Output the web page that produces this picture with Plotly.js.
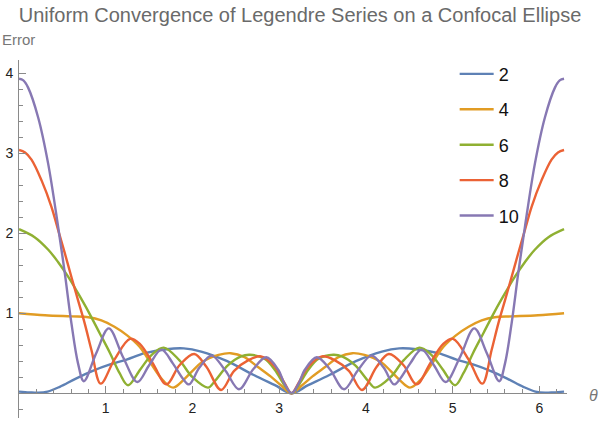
<!DOCTYPE html>
<html>
<head>
<meta charset="utf-8">
<script src="https://cdn.plot.ly/plotly-3.0.1.min.js"></script>
<style>
  body { margin: 0; background: #fff; }
  #plot { width: 600px; height: 421px; }
</style>
</head>
<body>
<div id="plot"></div>
<script>
// error curves, theta in radians
var theta2 = [0, 0.12, 0.22, 0.33, 0.47, 0.65, 0.85, 1.05, 1.24, 1.45, 1.7, 1.9, 2.1, 2.4, 2.7, 2.95, 3.1416,
    3.333, 3.583, 3.883, 4.183, 4.383, 4.583, 4.833, 5.043, 5.233, 5.433, 5.633, 5.813, 5.953, 6.063, 6.163, 6.283]
var err2 = [0.02, 0.01, 0.005, 0.02, 0.08, 0.18, 0.28, 0.36, 0.42, 0.50, 0.55, 0.56, 0.52, 0.40, 0.23, 0.10, 0,
    0.10, 0.23, 0.40, 0.52, 0.56, 0.55, 0.50, 0.42, 0.36, 0.28, 0.18, 0.08, 0.02, 0.005, 0.01, 0.02]

var theta4 = [0, 0.3, 0.6, 0.8, 0.95, 1.1, 1.25, 1.39, 1.545, 1.66, 1.776, 1.9, 2.0, 2.1, 2.2, 2.3, 2.44, 2.6, 2.75, 2.9, 3.02, 3.1416,
    3.263, 3.383, 3.533, 3.683, 3.843, 3.983, 4.083, 4.183, 4.283, 4.383, 4.507, 4.623, 4.738, 4.893, 5.033, 5.183, 5.333, 5.483, 5.683, 5.983, 6.283]
var err4 = [1.00, 0.975, 0.96, 0.95, 0.91, 0.83, 0.72, 0.58, 0.33, 0.16, 0.07, 0.17, 0.28, 0.38, 0.44, 0.48, 0.50, 0.45, 0.33, 0.21, 0.10, 0,
    0.10, 0.21, 0.33, 0.45, 0.50, 0.48, 0.44, 0.38, 0.28, 0.17, 0.07, 0.16, 0.33, 0.58, 0.72, 0.83, 0.91, 0.95, 0.96, 0.975, 1.00]

var theta6 = [0, 0.18, 0.34, 0.45, 0.57, 0.68, 0.8, 0.93, 1.05, 1.16, 1.257, 1.4, 1.53, 1.668, 1.85, 2.0, 2.18, 2.256, 2.41, 2.56, 2.66, 2.83, 2.95, 3.06, 3.1416,
    3.223, 3.333, 3.453, 3.623, 3.723, 3.873, 4.027, 4.103, 4.283, 4.433, 4.615, 4.753, 4.883, 5.026, 5.123, 5.233, 5.353, 5.483, 5.603, 5.713, 5.833, 5.943, 6.103, 6.283]
var err6 = [2.05, 1.95, 1.79, 1.64, 1.45, 1.25, 1.02, 0.75, 0.50, 0.25, 0.10, 0.30, 0.48, 0.57, 0.41, 0.20, 0.07, 0.15, 0.35, 0.46, 0.48, 0.43, 0.29, 0.10, 0,
    0.10, 0.29, 0.43, 0.48, 0.46, 0.35, 0.15, 0.07, 0.20, 0.41, 0.57, 0.48, 0.30, 0.10, 0.25, 0.50, 0.75, 1.02, 1.25, 1.45, 1.64, 1.79, 1.95, 2.05]

var theta8 = [0, 0.07, 0.144, 0.26, 0.374, 0.451, 0.528, 0.605, 0.681, 0.758, 0.835, 0.942, 1.1, 1.28, 1.39, 1.545, 1.70, 1.85, 2.02, 2.16, 2.33, 2.48, 2.64, 2.79, 2.95, 3.06, 3.1416,
    3.223, 3.333, 3.493, 3.643, 3.803, 3.953, 4.123, 4.263, 4.433, 4.583, 4.738, 4.893, 5.003, 5.183, 5.341, 5.448, 5.525, 5.602, 5.678, 5.755, 5.832, 5.909, 6.023, 6.139, 6.213, 6.283]
var err8 = [3.04, 3.01, 2.92, 2.66, 2.33, 2.04, 1.75, 1.45, 1.16, 0.87, 0.54, 0.12, 0.42, 0.68, 0.62, 0.37, 0.11, 0.35, 0.49, 0.33, 0.04, 0.28, 0.41, 0.46, 0.33, 0.13, 0,
    0.13, 0.33, 0.46, 0.41, 0.28, 0.04, 0.33, 0.49, 0.35, 0.11, 0.37, 0.62, 0.68, 0.42, 0.12, 0.54, 0.87, 1.16, 1.45, 1.75, 2.04, 2.33, 2.66, 2.92, 3.01, 3.04]

var theta10 = [0, 0.05, 0.105, 0.22, 0.336, 0.451, 0.528, 0.605, 0.681, 0.747, 0.89, 1.035, 1.20, 1.365, 1.50, 1.642, 1.775, 1.89, 1.96, 2.08, 2.22, 2.38, 2.536, 2.7, 2.85, 2.99, 3.06, 3.1416,
    3.223, 3.293, 3.433, 3.583, 3.747, 3.903, 4.063, 4.203, 4.323, 4.393, 4.508, 4.641, 4.783, 4.918, 5.083, 5.248, 5.393, 5.536, 5.602, 5.678, 5.755, 5.832, 5.947, 6.063, 6.178, 6.233, 6.283]
var err10 = [3.93, 3.91, 3.82, 3.45, 2.87, 2.08, 1.50, 0.87, 0.37, 0.15, 0.50, 0.81, 0.45, 0.14, 0.35, 0.545, 0.37, 0.18, 0.11, 0.32, 0.47, 0.28, 0.05, 0.30, 0.45, 0.29, 0.12, 0,
    0.12, 0.29, 0.45, 0.30, 0.05, 0.28, 0.47, 0.32, 0.11, 0.18, 0.37, 0.545, 0.35, 0.14, 0.45, 0.81, 0.50, 0.15, 0.37, 0.87, 1.50, 2.08, 2.87, 3.45, 3.82, 3.91, 3.93]

var names = ['2', '4', '6', '8', '10']
var colors = ['#5e81b5', '#e19c24', '#8fb032', '#eb6235', '#8778b3']
var xTicks = [1, 2, 3, 4, 5, 6]
var yTicks = [1, 2, 3, 4]

var xRange = [0, 6.317]
var yRange = [-0.31, 4.165]
var axisColor = '#8a8a8a'
var font = '"Liberation Sans", Arial, sans-serif'

function curve(x, y, i) {
    return {
        x: x, y: y, name: names[i], legendgroup: 'g' + i,
        type: 'scatter', mode: 'lines',
        line: {color: colors[i], width: 2.4, shape: 'spline', smoothing: 1},
        hoverinfo: 'skip'
    }
}

function draw() {
    try {
        var data = [
            curve(theta2, err2, 0),
            curve(theta4, err4, 1),
            curve(theta6, err6, 2),
            curve(theta8, err8, 3),
            curve(theta10, err10, 4)
        ]
        var layout = {
            width: 600, height: 421,
            margin: {l: 19, r: 33, t: 60, b: 3, pad: 0},
            paper_bgcolor: '#fff', plot_bgcolor: '#fff',
            font: {family: font, size: 14, color: '#222'},
            showlegend: true,
            title: {
                text: 'Uniform Convergence of Legendre Series on a Confocal Ellipse',
                font: {size: 20, color: '#6a6a6a'},
                xref: 'container', x: 0.5, xanchor: 'center',
                yref: 'container', y: 1 - 15 / 421, yanchor: 'middle'
            },
            legend: {
                x: 0.795, y: 1.012, xanchor: 'left', yanchor: 'top',
                font: {size: 18, color: '#111'},
                traceorder: 'grouped', tracegroupgap: 9,
                bgcolor: 'rgba(0,0,0,0)', itemwidth: 34
            },
            xaxis: {
                range: xRange, anchor: 'free',
                position: (0 - yRange[0]) / (yRange[1] - yRange[0]),
                showgrid: false, zeroline: false,
                showline: true, linecolor: axisColor, linewidth: 1,
                tickmode: 'array', tickvals: xTicks, ticktext: xTicks.map(String),
                ticks: 'inside', ticklen: 7, tickcolor: axisColor, tickwidth: 1,
                ticklabelstandoff: 2,
                minor: {dtick: 0.2, tick0: 0, ticks: 'inside', ticklen: 4, tickcolor: axisColor, showgrid: false},
                tickfont: {size: 14, color: '#222'}
            },
            yaxis: {
                range: yRange,
                showgrid: false, zeroline: false,
                showline: true, linecolor: axisColor, linewidth: 1,
                tickmode: 'array', tickvals: yTicks, ticktext: yTicks.map(String),
                ticks: 'inside', ticklen: 7, tickcolor: axisColor, tickwidth: 1,
                ticklabelstandoff: 2,
                minor: {dtick: 0.2, tick0: 0, ticks: 'inside', ticklen: 4, tickcolor: axisColor, showgrid: false},
                tickfont: {size: 14, color: '#222'}
            },
            annotations: [
                {
                    text: 'Error', xref: 'paper', yref: 'paper',
                    x: -19 / 548, y: (418 - 40) / 358, xanchor: 'left', yanchor: 'middle',
                    showarrow: false, font: {size: 15, color: '#777'}
                },
                {
                    text: '<i>θ</i>', xref: 'paper', yref: 'paper',
                    x: (593 - 19) / 548, y: (418 - 395) / 358, xanchor: 'center', yanchor: 'middle',
                    showarrow: false, font: {size: 16, color: '#777'}
                }
            ]
        }
        Plotly.newPlot('plot', data, layout, {staticPlot: true})
    }
    catch (err) {
        console.error(err)
    }
}

draw()
</script>
</body>
</html>
